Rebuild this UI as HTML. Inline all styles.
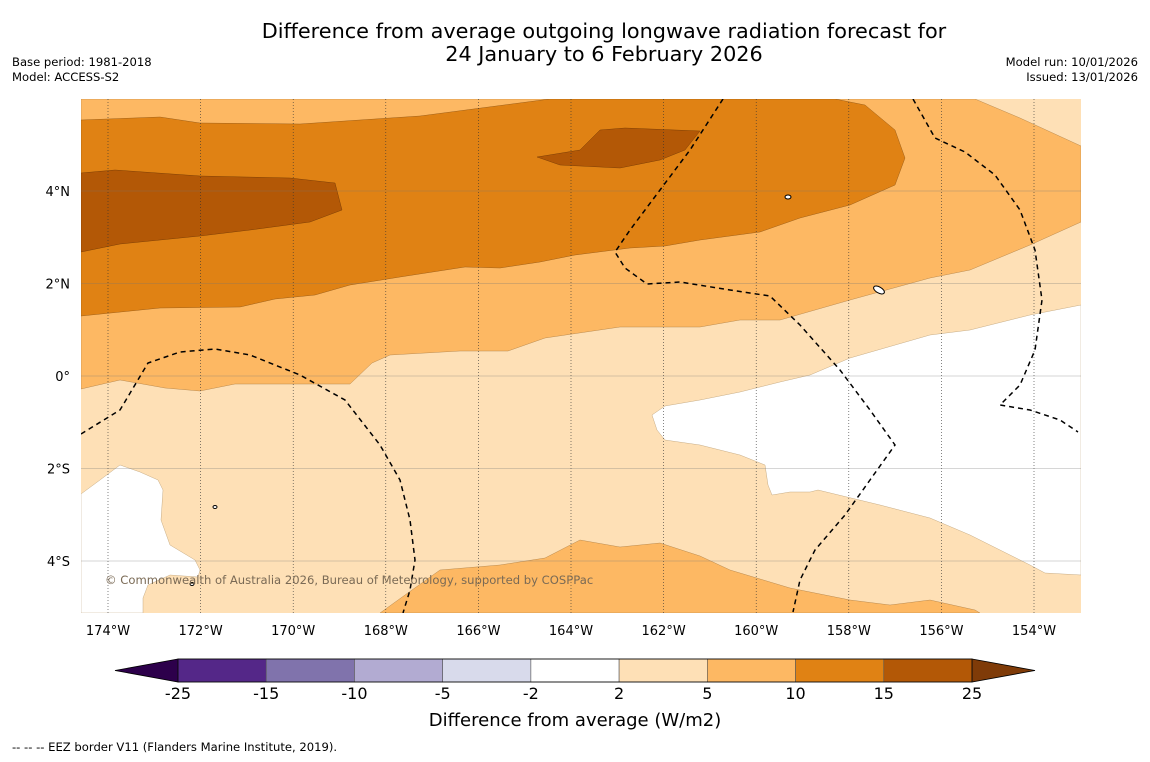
<!DOCTYPE html>
<html><head><meta charset="utf-8">
<style>
body{margin:0;background:#fff;width:1150px;height:758px;overflow:hidden;font-family:"DejaVu Sans","Liberation Sans",sans-serif;}
svg text{font-family:"DejaVu Sans","Liberation Sans",sans-serif;}
</style></head>
<body>
<svg id="c" width="1150" height="758" viewBox="0 0 1150 758" xmlns="http://www.w3.org/2000/svg">
<rect width="1150" height="758" fill="#fff"/>
<text x="604" y="38" text-anchor="middle" font-size="20.8">Difference from average outgoing longwave radiation forecast for</text>
<text x="604" y="61" text-anchor="middle" font-size="20.8">24 January to 6 February 2026</text>
<text x="12" y="66" font-size="11.6">Base period: 1981-2018</text>
<text x="12" y="81" font-size="11.6">Model: ACCESS-S2</text>
<text x="1138" y="66" font-size="11.6" text-anchor="end">Model run: 10/01/2026</text>
<text x="1138" y="81" font-size="11.6" text-anchor="end">Issued: 13/01/2026</text>

<defs><clipPath id="mc"><rect x="81" y="99" width="1000" height="514"/></clipPath></defs>
<g clip-path="url(#mc)">
<rect x="81" y="99" width="1000" height="514" fill="#fee0b6"/>
<path fill="#fff" stroke="#b89a70" stroke-width="0.4" d="M81,494 L100,480 L120,465 L140,472 L158,480 L163,490 L161,520 L170,545 L195,560 L200,570 L198,577 L170,575 L148,585 L143,598 L143,613 L81,613 Z"/>
<path fill="#fff" stroke="#b89a70" stroke-width="0.4" d="M652,415 L665,406 L700,400 L740,392 L780,382 L810,375 L850,358 L930,335 L970,330 L1030,315 L1081,305 L1081,575 L1045,573 L1030,565 L970,535 L930,518 L880,505 L818,490 L810,492 L790,492 L772,495 L768,485 L765,465 L740,455 L700,445 L665,440 L657,430 Z"/>
<path fill="#fdb863" stroke="#a87a40" stroke-width="0.4" d="M81,99 L975,99 L1020,118 L1081,146 L1081,222 L1030,245 L970,270 L930,278 L850,300 L780,320 L740,320 L700,327 L620,327 L545,338 L508,351 L460,351 L390,355 L372,363 L350,384 L235,384 L200,391 L165,388 L120,380 L81,389 Z"/>
<path fill="#fdb863" stroke="#a87a40" stroke-width="0.4" d="M380,613 L405,595 L440,570 L500,565 L545,558 L580,540 L620,547 L660,543 L700,556 L730,570 L790,588 L850,600 L890,605 L930,600 L975,610 L980,613 Z"/>
<path fill="#e08214" stroke="#8a5010" stroke-width="0.4" d="M81,120 L160,117 L200,123 L300,124 L420,116 L550,99 L835,99 L865,105 L895,130 L905,158 L895,185 L850,205 L800,218 L760,232 L700,240 L665,246 L630,248 L575,255 L540,262 L500,268 L465,267 L400,277 L350,285 L315,295 L275,299 L240,307 L160,308 L81,316 Z"/>
<path fill="#b35806" stroke="#6a3404" stroke-width="0.4" d="M81,173 L115,170 L200,176 L290,178 L335,183 L342,210 L310,222 L250,230 L200,236 L120,244 L81,252 Z"/>
<path fill="#b35806" stroke="#6a3404" stroke-width="0.4" d="M537,157 L580,150 L600,130 L625,128 L700,131 L685,150 L660,160 L620,168 L560,165 Z"/>
<g id="grid"></g>
<g fill="none" stroke="#000" stroke-width="1.5" stroke-dasharray="5,4">
<path d="M81,434 L120,410 L148,363 L180,352 L215,349 L250,355 L300,375 L345,400 L380,445 L400,480 L410,520 L415,560 L410,590 L403,613"/>
<path d="M723,99 L690,150 L660,190 L630,230 L615,252 L625,268 L647,284 L680,282 L730,290 L770,296 L800,325 L840,370 L870,410 L895,445 L870,480 L845,515 L815,550 L800,580 L793,612"/>
<path d="M913,99 L935,138 L965,152 L995,175 L1020,210 L1035,250 L1042,300 L1035,350 L1020,385 L1000,405 L1030,410 L1060,420 L1078,432"/>
</g>
<g fill="#fff" stroke="#000" stroke-width="1">
<ellipse cx="788" cy="197" rx="3" ry="2"/><ellipse cx="879" cy="290" rx="6" ry="3" transform="rotate(30 879 290)"/><ellipse cx="215" cy="507" rx="2" ry="1.5"/><ellipse cx="192" cy="584" rx="2" ry="1.5"/>
</g>
</g>
<text x="105" y="584" font-size="11.6" fill="#7a6a55">© Commonwealth of Australia 2026, Bureau of Meteorology, supported by COSPPac</text>
<g id="axes"></g>
<g id="cbar"></g>
<text x="575" y="726" text-anchor="middle" font-size="18">Difference from average (W/m2)</text>
<text x="12" y="751" font-size="11.6">--  --  -- EEZ border V11 (Flanders Marine Institute, 2019).</text>
</svg>
<script>
const lonTicks=[-174,-172,-170,-168,-166,-164,-162,-160,-158,-156,-154];
const latTicks=[4,2,0,-2,-4];
const levels=[-25,-15,-10,-5,-2,2,5,10,15,25];
const levelLabels=["-25","-15","-10","-5","-2","2","5","10","15","25"];
const bandColors=["#542788","#8073ac","#b2abd2","#d8daeb","#ffffff","#fee0b6","#fdb863","#e08214","#b35806"];
const NS="http://www.w3.org/2000/svg";
function xLon(l){return 108+(l+174)*46.3;}
function yLat(l){return 376-l*46.25;}
function mk(t,a,p){const e=document.createElementNS(NS,t);for(const k in a)e.setAttribute(k,a[k]);p.appendChild(e);return e;}
const grid=document.getElementById('grid'),axes=document.getElementById('axes'),cb=document.getElementById('cbar');
lonTicks.forEach(l=>{
 const ln=mk('line',{x1:xLon(l),x2:xLon(l),y1:99,y2:613,stroke:'#333','stroke-width':0.6,'stroke-dasharray':'1,2'},grid);
 
 
 const t=mk('text',{x:xLon(l),y:635,'text-anchor':'middle','font-size':13},axes);
 t.textContent=Math.abs(l)+'°W';
 
 
});
latTicks.forEach(l=>{
 const ln=mk('line',{x1:81,x2:1081,y1:yLat(l),y2:yLat(l),stroke:'#777','stroke-width':0.5,'stroke-opacity':0.6},grid);
 
 
 const t=mk('text',{x:70,y:yLat(l)+5,'text-anchor':'end','font-size':13},axes);
 t.textContent=l===0?'0°':Math.abs(l)+'°'+(l>0?'N':'S');
 
 
});
const cx0=178,cx1=972,cy=659,ch=23,n=levels.length-1,w=(cx1-cx0)/n;
function cbx(i){return cx0+i*w;}
let lt=mk('path',{d:`M${cx0},${cy} L115,${cy+ch/2} L${cx0},${cy+ch} Z`,fill:'#2d004b',stroke:'#000','stroke-width':0.8},cb);


let rt=mk('path',{d:`M${cx1},${cy} L1035,${cy+ch/2} L${cx1},${cy+ch} Z`,fill:'#7f3b08',stroke:'#000','stroke-width':0.8},cb);


bandColors.forEach((c,i)=>{
 const r=mk('rect',{x:cbx(i),y:cy,width:w,height:ch,fill:c,stroke:'#555','stroke-width':0.6},cb);
 
 
});
mk('rect',{x:cx0,y:cy,width:cx1-cx0,height:ch,fill:'none',stroke:'#000','stroke-width':0.8},cb);
levelLabels.forEach((s,i)=>{
 const t=mk('text',{x:cbx(i),y:699,'text-anchor':'middle','font-size':16},cb);
 t.textContent=s;
 
 
});
</script>
</body></html>
